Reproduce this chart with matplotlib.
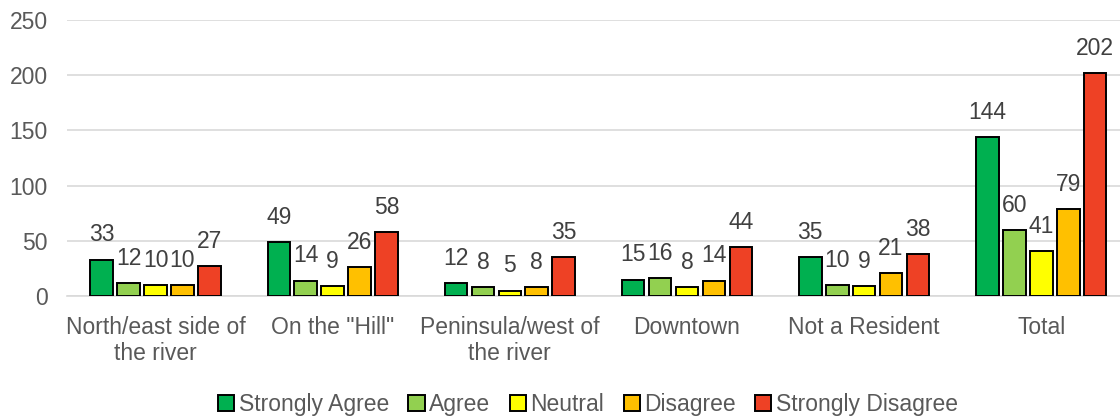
import numpy as np
import matplotlib.pyplot as plt

plt.rcParams['font.family'] = ['Liberation Sans', 'DejaVu Sans']

groups = ['North/east side of\nthe river', 'On the "Hill"', 'Peninsula/west of\nthe river',
          'Downtown', 'Not a Resident', 'Total']
series = ['Strongly Agree', 'Agree', 'Neutral', 'Disagree', 'Strongly Disagree']
strongly_agree = [33, 49, 12, 15, 35, 144]
agree = [12, 14, 8, 16, 10, 60]
neutral = [10, 9, 5, 8, 9, 41]
disagree = [10, 26, 8, 14, 21, 79]
strongly_disagree = [27, 58, 35, 44, 38, 202]
colors = ['#00B050', '#92D050', '#FFFF00', '#FFC000', '#EE4125']

values = [strongly_agree, agree, neutral, disagree, strongly_disagree]

fig = plt.figure(figsize=(11.2, 4.17), dpi=100)
# axes runs a little past the right edge, as in the original
ax = fig.add_axes([0.0598, 0.29, 0.949, 0.662])

x = np.arange(len(groups))
w = 0.152
for i, (name, vals, c) in enumerate(zip(series, values, colors)):
    pos = x + (i - 2) * w
    bars = ax.bar(pos, vals, width=0.128, color=c, edgecolor='black', linewidth=1.4,
                  label=name, zorder=3)
    for b, v in zip(bars, vals):
        ax.text(b.get_x() + b.get_width() / 2, v + 12, str(v), ha='center', va='bottom',
                fontsize=16.5, color='#404040')

ax.set_xlim(-0.5, len(groups) - 0.5)
ax.set_ylim(0, 250)
ax.set_yticks(range(0, 251, 50))
ax.grid(axis='y', color='#d9d9d9', linewidth=1.2, zorder=0)
ax.set_xticks(x)
ax.set_xticklabels(groups)
ax.tick_params(axis='both', length=0, labelsize=16.5, labelcolor='#595959')
ax.tick_params(axis='y', pad=14)
ax.tick_params(axis='x', pad=14)
for s in ['top', 'right', 'left']:
    ax.spines[s].set_visible(False)
ax.spines['bottom'].set_color('#d9d9d9')
ax.spines['bottom'].set_linewidth(1.2)

leg = fig.legend(loc='lower center', bbox_to_anchor=(0.525, -0.048), ncol=5, frameon=False,
                 fontsize=16.5, handlelength=0.7, handleheight=0.7, handletextpad=0.2,
                 columnspacing=0.85)
for t in leg.get_texts():
    t.set_color('#595959')
for p in leg.get_patches():
    p.set_linewidth(1.4)

fig.savefig('out.png', dpi=100)
